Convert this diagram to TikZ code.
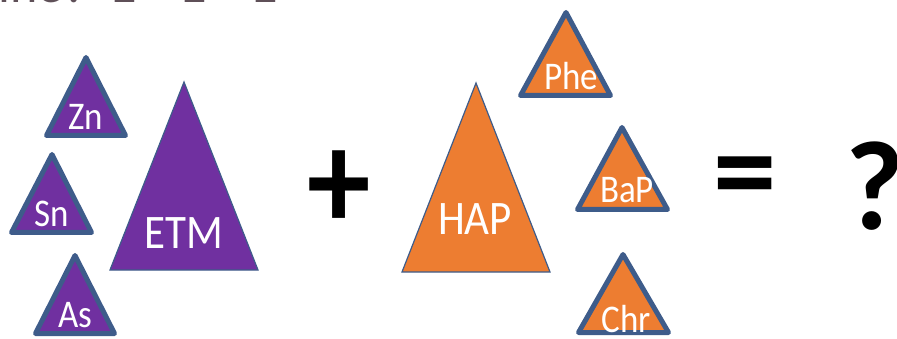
\documentclass[tikz,border=0pt]{standalone}
\usepackage{graphicx}
\usepackage{fontspec}
\setmainfont{Carlito}
\definecolor{etmpurple}{RGB}{112,48,160}
\definecolor{haporange}{RGB}{237,125,49}
\definecolor{edgeblue}{RGB}{62,92,138}
\definecolor{titlegray}{RGB}{95,80,88}
\newcommand{\tall}[1]{\scalebox{1}[1.12]{#1}}
\begin{document}
\begin{tikzpicture}[x=1pt,y=-1pt,
	smalltri/.style={draw=edgeblue,line width=5pt,line join=round},
	bigtri/.style={draw=edgeblue,line width=1.2pt},
	chem/.style={text=white,inner sep=0pt,anchor=base,font=\fontsize{35}{35}\selectfont},
	group/.style={chem,font=\fontsize{43}{43}\selectfont},
	sign/.style={inner sep=0pt,font=\fontsize{127}{127}\selectfont\bfseries},
	titletext/.style={text=titlegray,inner sep=0pt,anchor=base west,font=\fontsize{52}{52}\selectfont}]

	\useasboundingbox (0,0) rectangle (897,339);

	% title, cut off at the top
	\begin{scope}
	\clip (0,0) rectangle (897,339);
	\node[titletext] (t1) at (-2,2.5) {ine?};
	\node[titletext] (t2) at (111,2.5) {E};
	\node[titletext] (t3) at (181,2.5) {E};
	\node[titletext] (t4) at (226,2.5) {+E};
	\end{scope}

	% trace metals
	\draw[smalltri,fill=etmpurple] (86,57.5) -- (125.5,135.5) -- (46.5,135.5) -- cycle;
	\draw[smalltri,fill=etmpurple] (52,154.5) -- (91.5,232.5) -- (11.5,232.5) -- cycle;
	\draw[smalltri,fill=etmpurple] (75,255.5) -- (114.5,333.5) -- (35.5,333.5) -- cycle;
	\draw[bigtri,fill=etmpurple] (184,82) -- (258,270) -- (110,270) -- cycle;
	\node[chem] (zn) at (86,130) {\tall{Zn}};
	\node[chem] (sn) at (52,227) {\tall{Sn}};
	\node[chem] (as) at (75,327) {\tall{As}};
	\node[group] (etm) at (184,248) {\tall{ETM}};

	\node[sign] (plus) at (339,190) {\tall{+}};

	% aromatic hydrocarbons
	\draw[bigtri,fill=haporange] (476,83) -- (550,272) -- (402,272) -- cycle;
	\draw[smalltri,fill=haporange] (566,12.5) -- (610.5,95.5) -- (520.5,95.5) -- cycle;
	\draw[smalltri,fill=haporange] (622,127.5) -- (667.5,209.5) -- (577.5,209.5) -- cycle;
	\draw[smalltri,fill=haporange] (623,254.5) -- (668.5,332.5) -- (578.5,332.5) -- cycle;
	\node[group] (hap) at (475,235) {\tall{HAP}};
	\node[chem] (phe) at (571,90) {\tall{Phe}};
	\node[chem] (bap) at (627,203) {\tall{BaP}};
	\node[chem] (chr) at (626,332) {\tall{Chr}};

	\node[sign] (eq) at (745,185) {=};
	\node[sign] (qm) at (875,186) {?};

\end{tikzpicture}
\end{document}
